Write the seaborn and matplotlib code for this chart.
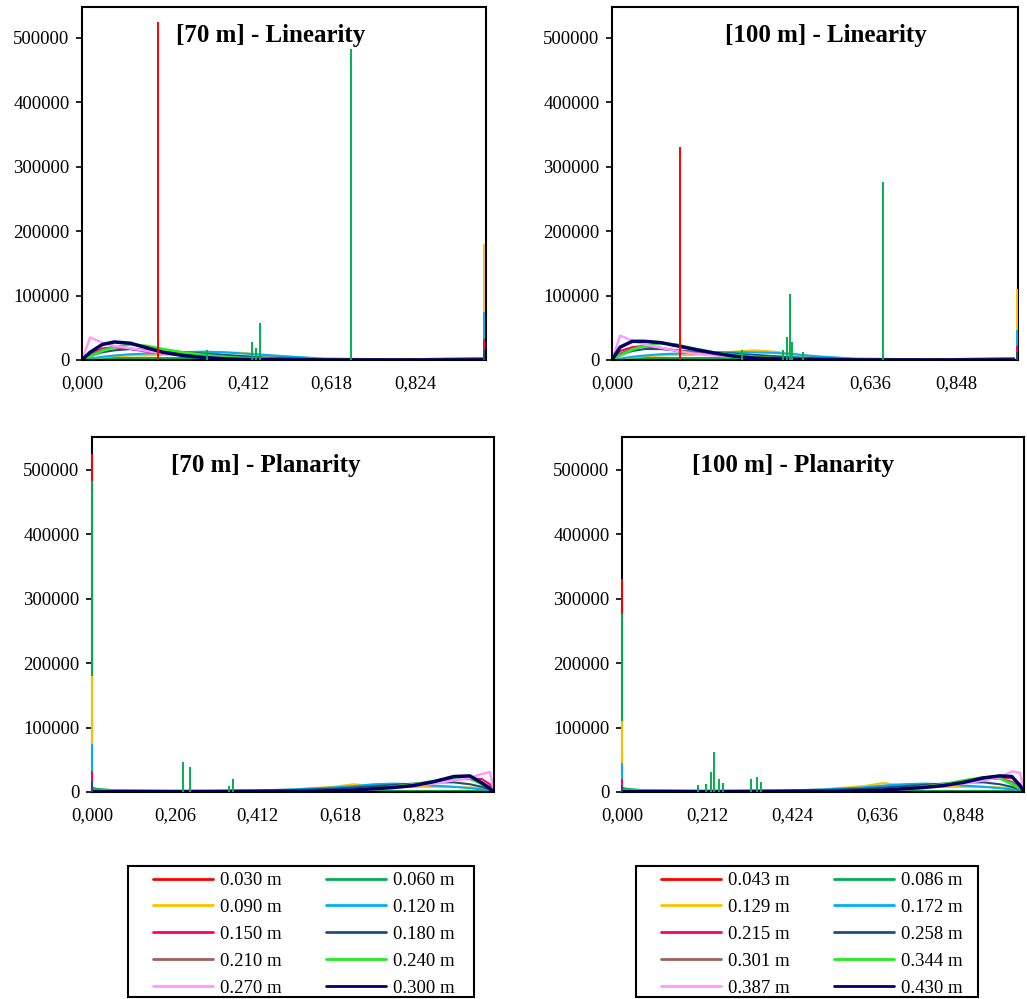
"""
Linearity / planarity histograms for the 70 m and 100 m neighbourhoods
"""

import matplotlib.pyplot as plt
import numpy as np
import pandas as pd
import seaborn as sns
from matplotlib.lines import Line2D
from matplotlib.patches import Rectangle

# scale labels (legend order)
SCALES_70 = ["0.030 m", "0.060 m", "0.090 m", "0.120 m", "0.150 m",
             "0.180 m", "0.210 m", "0.240 m", "0.270 m", "0.300 m"]
SCALES_100 = ["0.043 m", "0.086 m", "0.129 m", "0.172 m", "0.215 m",
              "0.258 m", "0.301 m", "0.344 m", "0.387 m", "0.430 m"]
COLORS = ["#FF0000", "#00B050", "#FFC000", "#00B0F0", "#FF0066",
          "#1F4E79", "#A0605A", "#22EE22", "#FF99FF", "#000066"]
WIDTHS = [1.5, 1.5, 1.5, 1.5, 1.5, 1.5, 1.5, 1.9, 1.7, 2.5]

# sampled x positions of the histograms
X_LIN = [0.0, 0.02, 0.05, 0.08, 0.12, 0.16, 0.2, 0.25, 0.3, 0.35, 0.4, 0.45, 0.5, 0.6, 0.8, 0.99]
X_PLN = [0.0, 0.01, 0.05, 0.2, 0.4, 0.5, 0.6, 0.65, 0.7, 0.75, 0.8, 0.85, 0.9, 0.94, 0.97, 0.99, 1.0]

# counts (thousands), one row per scale
LIN_70 = [
    [0, 1, 2, 2, 2, 1.5, 1, 1, 1, 1, 1, 0.5, 0.5, 0.5, 0.5, 1],
    [0, 1, 2, 3, 3, 3, 3, 3, 3, 3, 3, 3, 2, 1.5, 1, 2],
    [0, 2, 4, 6, 7, 7, 8, 9, 10, 12, 11, 8, 5, 2, 1, 3],
    [0, 2, 5, 7, 9, 10, 11, 12, 13, 12, 10, 8, 6, 2, 1, 3],
    [0, 10, 18, 20, 17, 13, 10, 8, 6, 5, 4, 3, 2, 1, 0.5, 2],
    [0, 6, 12, 15, 17, 15, 13, 12, 10, 8, 6, 4, 3, 1, 0.5, 1],
    [0, 8, 16, 20, 18, 15, 12, 9, 7, 5, 3, 2, 1, 0.5, 0.2, 0.5],
    [0, 5, 14, 20, 24, 22, 17, 12, 8, 5, 3, 2, 1, 0.3, 0.1, 0.2],
    [0, 35, 27, 22, 18, 14, 10, 7, 4, 3, 2, 1, 0.5, 0.2, 0.1, 0.2],
    [0, 12, 24, 28, 26, 19, 12, 7, 4, 2, 1, 0.5, 0.3, 0.2, 0.1, 0.2],
]
LIN_100 = [
    [0, 1, 2, 2, 2, 1.5, 1, 1, 1, 1, 1, 0.5, 0.5, 0.5, 0.5, 1],
    [0, 1, 2, 3, 3, 3, 3, 3, 3, 4, 5, 4, 2, 1.5, 1, 2],
    [0, 2, 4, 6, 7, 8, 8, 10, 13, 15, 13, 9, 5, 2, 1, 3],
    [0, 2, 5, 7, 9, 10, 11, 12, 12, 12, 11, 9, 6, 2, 1, 3],
    [0, 14, 20, 22, 18, 14, 10, 8, 6, 5, 4, 3, 2, 1, 0.5, 2],
    [0, 8, 14, 17, 17, 15, 13, 12, 10, 8, 6, 4, 3, 1, 0.5, 1],
    [0, 10, 18, 21, 19, 15, 12, 9, 7, 5, 3, 2, 1, 0.5, 0.2, 0.5],
    [0, 7, 16, 22, 26, 24, 18, 12, 8, 5, 3, 2, 1, 0.3, 0.1, 0.2],
    [0, 38, 30, 24, 19, 14, 10, 7, 5, 3, 2, 1, 0.5, 0.2, 0.1, 0.2],
    [0, 20, 29, 29, 27, 22, 17, 11, 6, 3, 2, 1, 0.5, 0.2, 0.1, 0.2],
]
PLN_70 = [
    [3, 2, 1, 0.5, 0.5, 0.5, 0.5, 0.5, 0.5, 0.5, 0.5, 0.5, 0.5, 0.5, 0.5, 0.5, 0],
    [7, 5, 3, 2, 1.5, 1.5, 1.5, 1.5, 1.5, 1.5, 1.5, 1.5, 1.5, 1.5, 1.5, 1.5, 0],
    [4, 3, 2, 1.5, 2, 4, 8, 12, 9, 8, 8, 8, 8, 7, 6, 4, 0],
    [4, 3, 2, 1.5, 2, 4, 7, 9, 12, 13, 12, 10, 8, 6, 4, 2, 0],
    [2, 1, 1, 1, 1, 1, 2, 3, 5, 7, 10, 14, 19, 21, 20, 12, 0],
    [1, 1, 1, 1, 2, 3, 5, 7, 9, 11, 13, 15, 15, 12, 8, 4, 0],
    [0.5, 0.5, 0.5, 0.5, 1, 2, 3, 4, 6, 9, 12, 16, 20, 20, 15, 8, 0],
    [0.5, 0.5, 0.5, 0.5, 1, 1, 2, 3, 5, 8, 12, 17, 22, 21, 12, 5, 0],
    [0.5, 0.5, 0.5, 0.5, 1, 1, 2, 3, 4, 6, 9, 13, 18, 22, 28, 31, 0],
    [0.5, 0.5, 0.5, 0.5, 1, 1, 2, 3, 5, 7, 10, 16, 24, 25, 14, 5, 0],
]
PLN_100 = [
    [3, 2, 1, 0.5, 0.5, 0.5, 0.5, 0.5, 0.5, 0.5, 0.5, 0.5, 0.5, 0.5, 0.5, 0.5, 0],
    [7, 5, 3, 2, 1.5, 1.5, 1.5, 1.5, 1.5, 1.5, 1.5, 1.5, 1.5, 1.5, 1.5, 1.5, 0],
    [4, 3, 2, 1.5, 2, 4, 9, 14, 10, 8, 8, 8, 8, 7, 6, 4, 0],
    [4, 3, 2, 1.5, 2, 4, 7, 10, 12, 13, 12, 10, 8, 6, 4, 2, 0],
    [2, 1, 1, 1, 1, 1, 2, 3, 5, 7, 10, 14, 19, 22, 22, 12, 0],
    [1, 1, 1, 1, 2, 3, 5, 7, 9, 11, 13, 15, 15, 12, 8, 4, 0],
    [0.5, 0.5, 0.5, 0.5, 1, 2, 3, 4, 6, 9, 12, 16, 20, 21, 16, 8, 0],
    [0.5, 0.5, 0.5, 0.5, 1, 1, 2, 3, 5, 8, 12, 18, 23, 21, 12, 5, 0],
    [0.5, 0.5, 0.5, 0.5, 1, 1, 2, 3, 4, 6, 9, 13, 18, 23, 32, 30, 0],
    [0.5, 0.5, 0.5, 0.5, 1, 1, 2, 3, 5, 7, 10, 15, 22, 25, 24, 10, 0],
]

# narrow single-bin peaks: scale index, x, count (thousands)
LIN_70_PEAK_IDX = [0, 1, 1, 1, 1, 1, 2, 3, 4, 5]
LIN_70_PEAK_X = [0.189, 0.31, 0.42, 0.43, 0.44, 0.665, 0.995, 0.995, 0.995, 0.995]
LIN_70_PEAK_Y = [525, 15, 28, 18, 57, 483, 180, 75, 33, 15]

LIN_100_PEAK_IDX = [0, 1, 1, 1, 1, 1, 1, 1, 2, 3, 4, 5]
LIN_100_PEAK_X = [0.167, 0.32, 0.42, 0.432, 0.438, 0.444, 0.47, 0.667, 0.997, 0.997, 0.997, 0.997]
LIN_100_PEAK_Y = [330, 15, 16, 35, 103, 28, 12, 277, 110, 47, 22, 12]

PLN_70_PEAK_IDX = [0, 1, 2, 3, 4, 5, 1, 1, 1, 1]
PLN_70_PEAK_X = [0.0, 0.0, 0.0, 0.0, 0.0, 0.0, 0.226, 0.245, 0.34, 0.35]
PLN_70_PEAK_Y = [525, 483, 180, 75, 33, 15, 46, 39, 10, 20]

PLN_100_PEAK_IDX = [0, 1, 2, 3, 4, 5, 1, 1, 1, 1, 1, 1, 1, 1, 1]
PLN_100_PEAK_X = [0.0, 0.0, 0.0, 0.0, 0.0, 0.0, 0.19, 0.21, 0.222, 0.229, 0.241, 0.25, 0.32, 0.335, 0.347]
PLN_100_PEAK_Y = [330, 277, 110, 45, 20, 10, 11, 12, 31, 62, 20, 14, 20, 23, 16]

TICKS_70 = [0.0, 0.206, 0.412, 0.618, 0.824]
LABELS_70_LIN = ["0,000", "0,206", "0,412", "0,618", "0,824"]
LABELS_70_PLN = ["0,000", "0,206", "0,412", "0,618", "0,823"]
TICKS_100 = [0.0, 0.212, 0.424, 0.636, 0.848]
LABELS_100 = ["0,000", "0,212", "0,424", "0,636", "0,848"]
Y_TICKS = [0, 100000, 200000, 300000, 400000, 500000]

W, H = 1027, 999


def draw_panel(ax, x, counts, peak_idx, peak_x, peak_y, title, title_x,
               ticks, tick_labels, ymax):
    """Draw one histogram panel."""
    for i, row in enumerate(counts):
        df = pd.DataFrame({"value": x, "count": np.array(row) * 1000})
        sns.lineplot(data=df, x="value", y="count", color=COLORS[i],
                     lw=WIDTHS[i], ax=ax)

    # single-bin peaks, drawn over the frame like in the original
    for i, px, py in zip(peak_idx, peak_x, peak_y):
        ax.vlines(px, 0, py * 1000, color=COLORS[i], lw=1.4, zorder=3, clip_on=False)

    ax.set_xlim(0, 1.0)
    ax.set_ylim(0, ymax)
    ax.set_xticks(ticks, tick_labels)
    ax.set_yticks(Y_TICKS, [str(v) for v in Y_TICKS])
    ax.set_xlabel("")
    ax.set_ylabel("")
    ax.tick_params(axis="x", length=0, pad=11, labelsize=13.5, labelcolor="black")
    ax.tick_params(axis="y", left=True, length=4, width=1.2, direction="out",
                   pad=5, labelsize=13.5, color="black", labelcolor="black")
    for sp in ax.spines.values():
        sp.set_color("black")
        sp.set_linewidth(1.5)
    ax.text(title_x, 0.92, title, transform=ax.transAxes, ha="center",
            va="center", fontsize=18, fontweight="bold", color="black")


sns.set_style("white")
plt.rcParams["font.family"] = ["Liberation Serif", "DejaVu Serif"]
plt.rcParams["text.color"] = "black"

fig = plt.figure(figsize=(W / 100, H / 100), dpi=100)

ax1 = fig.add_axes([82 / W, 1 - 360 / H, 404 / W, 353 / H])
ax2 = fig.add_axes([612 / W, 1 - 360 / H, 406 / W, 353 / H])
ax3 = fig.add_axes([92 / W, 1 - 792 / H, 402 / W, 355 / H])
ax4 = fig.add_axes([622 / W, 1 - 792 / H, 402 / W, 355 / H])

draw_panel(ax1, X_LIN, LIN_70, LIN_70_PEAK_IDX, LIN_70_PEAK_X, LIN_70_PEAK_Y,
           "[70 m] - Linearity", 0.468, TICKS_70, LABELS_70_LIN, 548000)
draw_panel(ax2, X_LIN, LIN_100, LIN_100_PEAK_IDX, LIN_100_PEAK_X, LIN_100_PEAK_Y,
           "[100 m] - Linearity", 0.527, TICKS_100, LABELS_100, 548000)
draw_panel(ax3, X_PLN, PLN_70, PLN_70_PEAK_IDX, PLN_70_PEAK_X, PLN_70_PEAK_Y,
           "[70 m] - Planarity", 0.433, TICKS_70, LABELS_70_PLN, 551000)
draw_panel(ax4, X_PLN, PLN_100, PLN_100_PEAK_IDX, PLN_100_PEAK_X, PLN_100_PEAK_Y,
           "[100 m] - Planarity", 0.425, TICKS_100, LABELS_100, 551000)

# legends: row-major order in two columns, frame drawn separately
order = [0, 2, 4, 6, 8, 1, 3, 5, 7, 9]
for scales, left, right in [(SCALES_70, 128, 474), (SCALES_100, 636, 978)]:
    handles = [Line2D([], [], color=COLORS[i], lw=2) for i in order]
    fig.legend(handles, [scales[i] for i in order], loc="upper left",
               bbox_to_anchor=((left + 25) / W, 1 - 872 / H), ncol=2,
               fontsize=13.5, frameon=False, handlelength=3.2, handletextpad=0.35,
               columnspacing=2.4, labelspacing=0.52, borderpad=0,
               borderaxespad=0)
    fig.patches.append(Rectangle((left / W, 1 - 997 / H), (right - left) / W, 131 / H,
                                 transform=fig.transFigure, fill=False,
                                 edgecolor="black", lw=1.5))

fig.savefig("out.png", dpi=100)
